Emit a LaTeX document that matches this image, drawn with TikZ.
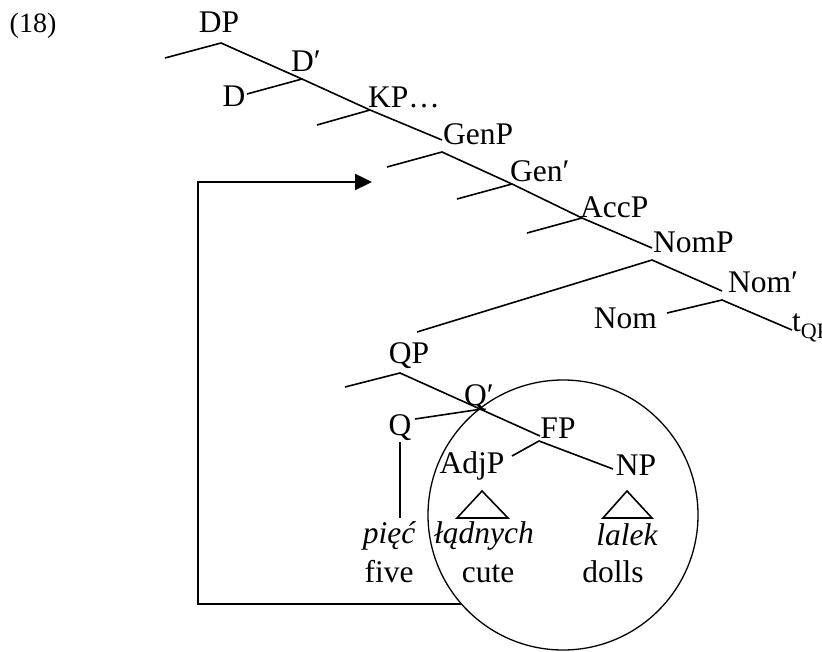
\documentclass[tikz,border=0pt]{standalone}
\usepackage{fontspec}
\setmainfont{Liberation Serif}
\usetikzlibrary{arrows.meta}

\begin{document}
\begin{tikzpicture}[x=1pt, y=-1pt, font=\fontsize{31.5}{36}\selectfont,
  lbl/.style={inner sep=0pt, anchor=base},
  lblw/.style={inner sep=0pt, anchor=base west},
  lble/.style={inner sep=0pt, anchor=base east},
  branch/.style={line width=1.6pt},
  move/.style={line width=2.4pt, -{Triangle[length=17pt,width=16pt]}}]
  \useasboundingbox (0,0) rectangle (822,652);
  % example number
  \node[lbl, font=\fontsize{28}{32}\selectfont] (ex) at (33,33) {(18)};
  % upper spine
  \node[lbl]  (DP)   at (219,33)  {DP};
  \node[lbl]  (Dbar) at (306,72)  {D′};
  \node[lbl]  (D)    at (234,107) {D};
  \node[lblw] (KP)   at (368,108) {KP…};
  \node[lblw] (GenP) at (443,145) {GenP};
  \node[lblw] (Genb) at (510,182) {Gen′};
  \node[lblw] (AccP) at (580,218) {AccP};
  \node[lblw] (NomP) at (653,253) {NomP};
  \node[lblw] (Nomb) at (728,293) {Nom′};
  \node[lble] (Nom)  at (657,328) {Nom};
  \node[lblw] (tQP)  at (792,332) {t\textsubscript{QP}};
  % lower tree
  \node[lbl] (QP)   at (409,363) {QP};
  \node[lbl] (Qbar) at (479,405) {Q′};
  \node[lbl] (Q)    at (400,435) {Q};
  \node[lbl] (FP)   at (558,438) {FP};
  \node[lbl] (AdjP) at (472,473) {AdjP};
  \node[lbl] (NP)   at (636,475) {NP};
  \node[lbl] (piec) at (389,543) {\itshape pięć};
  \node[lbl] (ladn) at (484,543) {\itshape łądnych};
  \node[lbl] (lal)  at (627,545) {\itshape lalek};
  \node[lbl] (five) at (389,582) {five};
  \node[lbl] (cute) at (488,582) {cute};
  \node[lbl] (doll) at (613,582) {dolls};

  % branch points
  \coordinate (dp)      at (221,43);
  \coordinate (dpL)     at (165,58);
  \coordinate (dbar)    at (302,79);
  \coordinate (dE)      at (247,94);
  \coordinate (kp)      at (370,110);
  \coordinate (kpL)     at (317,125);
  \coordinate (kpR)     at (442,140);
  \coordinate (gen)     at (442,152);
  \coordinate (genL)    at (387,167);
  \coordinate (genbar)  at (512,184);
  \coordinate (genbarL) at (457,199);
  \coordinate (acc)     at (582,218);
  \coordinate (accL)    at (527,233);
  \coordinate (accR)    at (652,248);
  \coordinate (nom)     at (652,260);
  \coordinate (nomL)    at (417,332);
  \coordinate (nomR)    at (722,291);
  \coordinate (nombar)  at (722,300);
  \coordinate (nomE)    at (667,313);
  \coordinate (tW)      at (792,330);
  \coordinate (qp)      at (400,373);
  \coordinate (qpL)     at (345,387);
  \coordinate (fpN)     at (540,436);
  \coordinate (qbar)    at (482,409);
  \coordinate (qE)      at (415,419);
  \coordinate (qTop)    at (400,442);
  \coordinate (qBot)    at (400,518);
  \coordinate (fp)      at (539,441);
  \coordinate (adjE)    at (512,456);
  \coordinate (npW)     at (613,469);
  \coordinate (bendT)   at (198,182);
  \coordinate (tip)     at (372,182);

  \draw[branch] (dpL) -- (dp) -- (dbar) -- (kp) -- (kpR);
  \draw[branch] (dbar) -- (dE);
  \draw[branch] (kpL) -- (kp);
  \draw[branch] (genL) -- (gen) -- (genbar) -- (acc) -- (accR);
  \draw[branch] (genbarL) -- (genbar);
  \draw[branch] (accL) -- (acc);
  \draw[branch] (nomL) -- (nom) -- (nomR);
  \draw[branch] (nomE) -- (nombar) -- (tW);
  \draw[branch] (qpL) -- (qp) -- (fpN);
  \draw[branch] (qbar) -- (qE);
  \draw[branch] (qTop) -- (qBot);
  \draw[branch] (adjE) -- (fp) -- (npW);
  % roofs
  \draw[branch] (482,491) -- (457,518) -- (508,518) -- cycle;
  \draw[branch] (627,491) -- (603,518) -- (652,518) -- cycle;

  \node[draw, circle, inner sep=0pt, minimum size=270pt, line width=1.3pt] (ring) at (563,515) {};
  \draw[move] (ring.221) -| (bendT) -- (tip);
\end{tikzpicture}
\end{document}
